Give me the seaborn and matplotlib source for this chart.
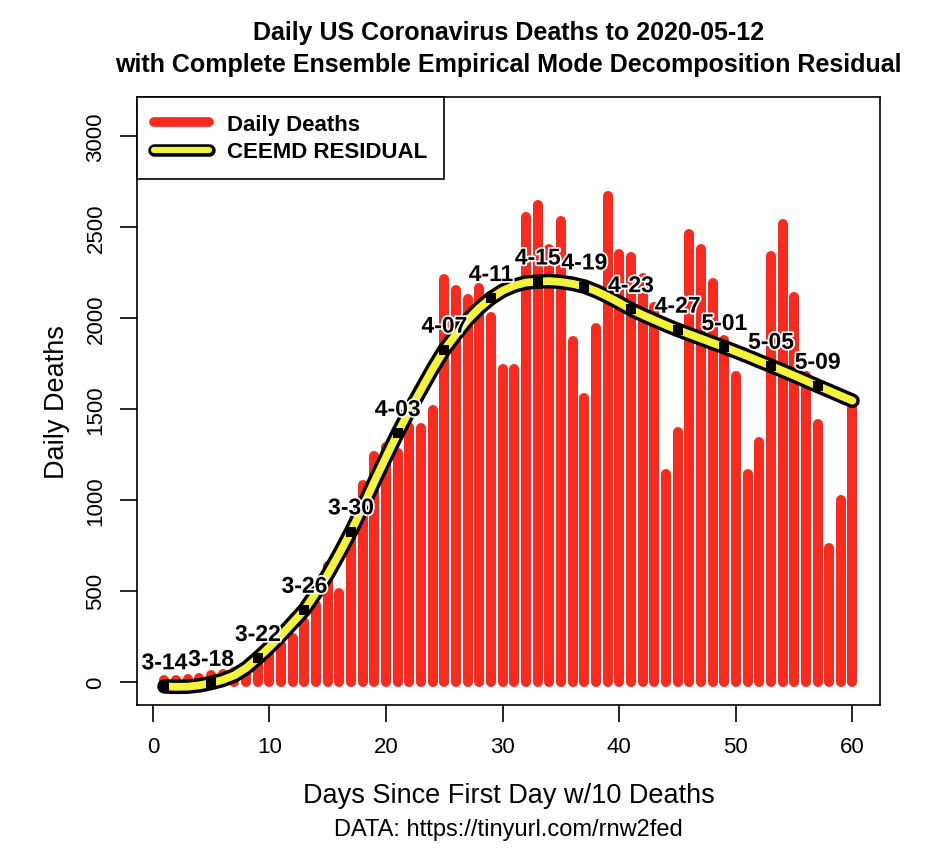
import numpy as np
import pandas as pd
import matplotlib
matplotlib.use("Agg")
import matplotlib.pyplot as plt
import matplotlib.patheffects as pe
from matplotlib.lines import Line2D
import seaborn as sns

# du lieu doc tu hinh
days = list(range(1, 61))
deaths = [10, 12, 15, 20, 38, 45, 55, 80, 105, 150,
          200, 240, 330, 420, 634, 488, 800, 1079, 1239, 1290,
          1257, 1400, 1396, 1495, 2214, 2155, 2106, 2164, 2008, 1719,
          1719, 2558, 2622, 2380, 2536, 1876, 1560, 1944, 2673, 2351,
          2333, 2220, 2061, 1143, 1373, 2461, 2380, 2192, 1880, 1682,
          1142, 1316, 2342, 2516, 2118, 1682, 1417, 738, 998, 1505]
residual = [-26, -28, -27, -20, -7, 10, 35, 75, 130, 190,
            255, 325, 395, 490, 590, 705, 826, 960, 1100, 1235,
            1367, 1490, 1605, 1720, 1825, 1910, 1990, 2055, 2109, 2150,
            2178, 2195, 2200, 2203, 2198, 2188, 2173, 2148, 2118, 2084,
            2048, 2017, 1989, 1961, 1935, 1911, 1887, 1863, 1840, 1815,
            1790, 1763, 1737, 1710, 1683, 1655, 1627, 1600, 1572, 1545]
label_days = [1, 5, 9, 13, 17, 21, 25, 29, 33, 37, 41, 45, 49, 53, 57]
date_labels = ['3-14', '3-18', '3-22', '3-26', '3-30', '4-03', '4-07', '4-11',
               '4-15', '4-19', '4-23', '4-27', '5-01', '5-05', '5-09']
x_ticks = [0, 10, 20, 30, 40, 50, 60]
y_ticks = [0, 500, 1000, 1500, 2000, 2500, 3000]

df = pd.DataFrame({'day': days, 'deaths': deaths, 'residual': residual})
pts = df[df['day'].isin(label_days)]

sns.set_style('white')
plt.rcParams['font.family'] = ['Liberation Sans', 'DejaVu Sans']
plt.rcParams['text.color'] = 'black'
plt.rcParams['axes.labelcolor'] = 'black'
plt.rcParams['xtick.color'] = 'black'
plt.rcParams['ytick.color'] = 'black'

BAR_RED = '#fb2a1f'
YELLOW = '#f5f23a'

fig = plt.figure(figsize=(9.33, 8.54), dpi=100)
ax = fig.add_axes([0.1468, 0.1733, 0.7964, 0.7119])

# cot: duong thang dung day, dau tron
bars = ax.vlines(df['day'], 0, df['deaths'], colors=BAR_RED, linewidth=7.2)
bars.set_capstyle('round')

# duong CEEMD: vien den + vang
sns.lineplot(data=df, x='day', y='residual', color='black', linewidth=10.5,
             solid_capstyle='round', ax=ax, zorder=3)
sns.lineplot(data=df, x='day', y='residual', color=YELLOW, linewidth=5.6,
             solid_capstyle='round', ax=ax, zorder=4)
ax.scatter(pts['day'], pts['residual'], s=42, marker='s', color='black',
           zorder=5, linewidths=0)

for d, r, lbl in zip(pts['day'], pts['residual'], date_labels):
    ax.annotate(lbl, (d, r), xytext=(0, 17), textcoords='offset points',
                ha='center', va='center', fontsize=16.5, fontweight='bold',
                color='black', zorder=6,
                path_effects=[pe.withStroke(linewidth=2.5, foreground='white')])

ax.set_xlim(-1.36, 62.36)
ax.set_ylim(-128, 3215)
ax.set_xticks(x_ticks)
ax.set_yticks(y_ticks)
ax.tick_params(axis='both', bottom=True, left=True, direction='out',
               length=12, width=1.2, labelsize=16, color='black',
               labelcolor='black', pad=10)
for lab in ax.get_yticklabels():
    lab.set_rotation(90)
    lab.set_va('center')
for s in ax.spines.values():
    s.set_color('black')
    s.set_linewidth(1.2)
ax.set_xlabel('Days Since First Day w/10 Deaths', fontsize=19.5, labelpad=18)
ax.set_ylabel('Daily Deaths', fontsize=19.5, labelpad=11)

fig.text(0.545, 0.961, 'Daily US Coronavirus Deaths to 2020-05-12',
         ha='center', va='center', fontsize=18, fontweight='bold')
fig.text(0.545, 0.924, 'with Complete Ensemble Empirical Mode Decomposition Residual',
         ha='center', va='center', fontsize=18, fontweight='bold')
fig.text(0.545, 0.028, 'DATA: https://tinyurl.com/rnw2fed',
         ha='center', va='center', fontsize=17)

handles = [Line2D([], [], color=BAR_RED, linewidth=7, solid_capstyle='round'),
           (Line2D([], [], color='black', linewidth=9, solid_capstyle='round'),
            Line2D([], [], color=YELLOW, linewidth=4.5, solid_capstyle='round'))]
leg = ax.legend(handles, ['Daily Deaths', 'CEEMD RESIDUAL'], loc='upper left',
                bbox_to_anchor=(0, 1), borderaxespad=0, fancybox=False,
                framealpha=1, edgecolor='black', handlelength=2.5,
                prop={'weight': 'bold', 'size': 16}, borderpad=0.75,
                labelspacing=0.3)
leg.get_frame().set_linewidth(1.2)

fig.savefig('out.png', dpi=100)
